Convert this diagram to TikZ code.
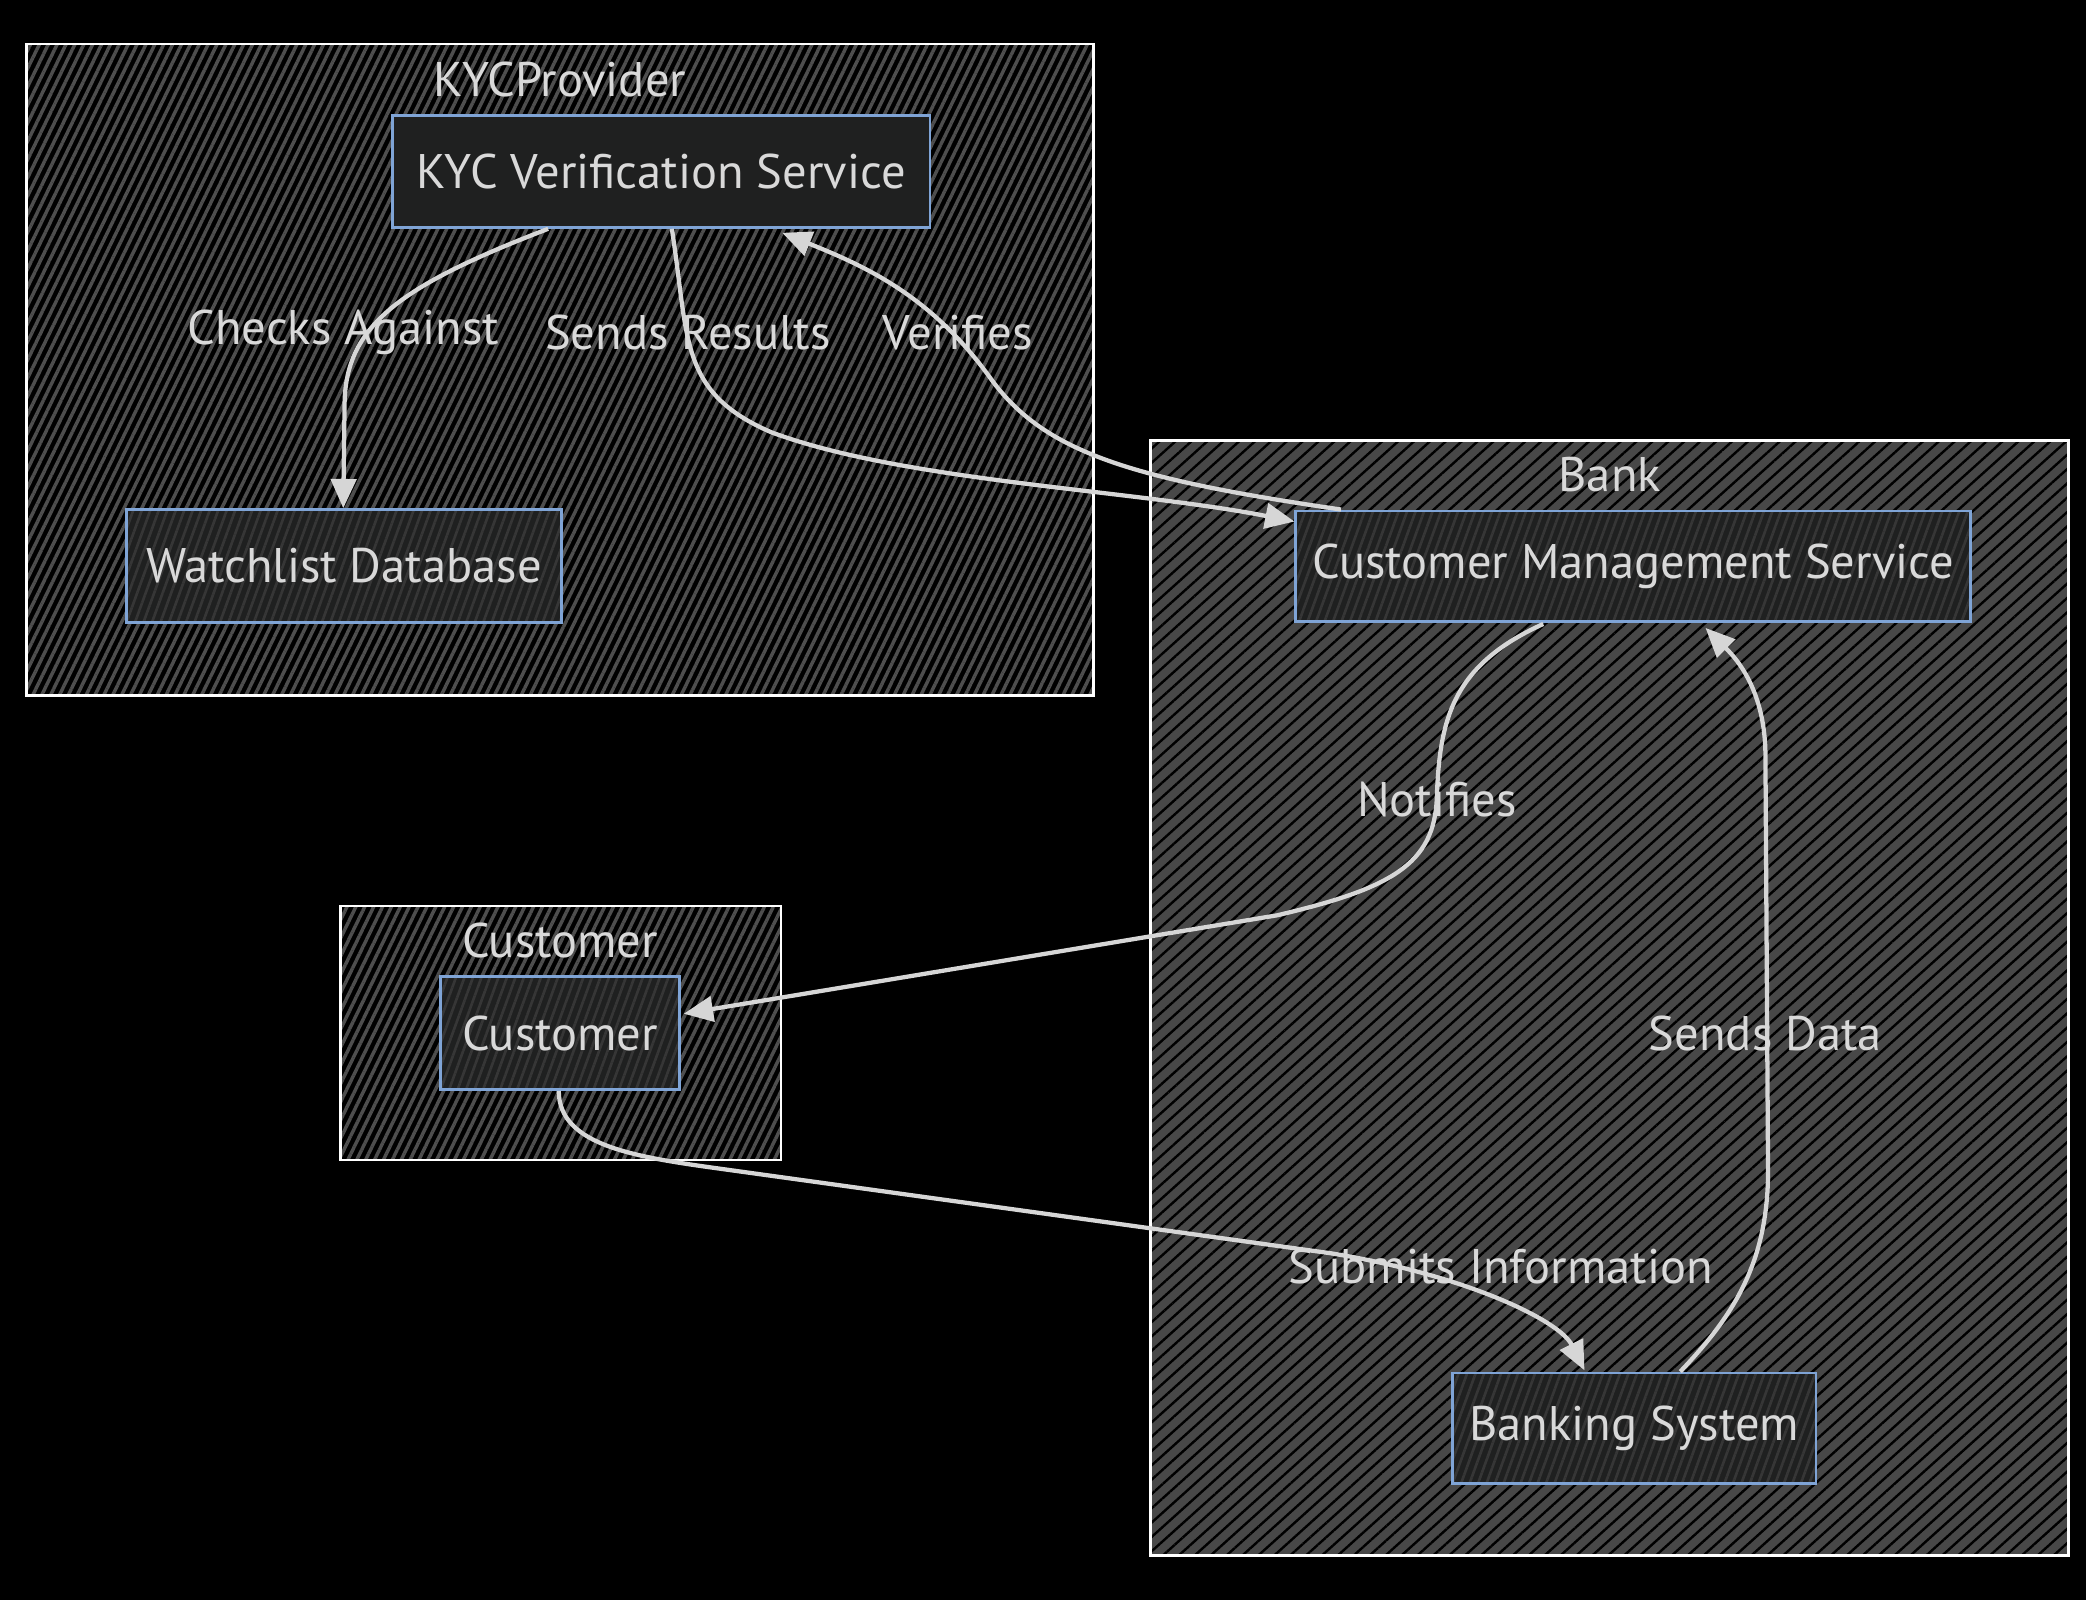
\documentclass[tikz,border=0pt]{standalone}
\usepackage{fontspec}
\setmainfont{PT Sans}
\usetikzlibrary{patterns.meta,arrows.meta}
\definecolor{txt}{HTML}{D9D9D9}
\definecolor{edgec}{HTML}{D6D6D6}
\definecolor{nodeborder}{HTML}{7FA4D6}
\definecolor{nodefill}{HTML}{1F2020}
\definecolor{nodehatch}{HTML}{363636}
\definecolor{kychatch}{HTML}{4E4E4E}
\definecolor{bankfill}{HTML}{484848}
\tikzset{
  lbl/.style={text=txt,font=\fontsize{36.5}{42}\selectfont,inner sep=0pt},
  nodebox/.style={rectangle,draw=nodeborder,line width=2pt,inner sep=0pt,
    text=txt,font=\fontsize{36.5}{42}\selectfont,
    preaction={fill=nodefill},
    preaction={pattern={Lines[angle=70,distance=6pt,line width=2pt]},pattern color=nodehatch}},
  plainbox/.style={rectangle,draw=nodeborder,line width=2pt,inner sep=0pt,
    text=txt,font=\fontsize{36.5}{42}\selectfont,fill=nodefill},
  darkcluster/.style={draw=white,line width=2pt,
    preaction={fill=black},
    preaction={pattern={Lines[angle=64,distance=6pt,line width=2.6pt]},pattern color=kychatch}},
  bankcluster/.style={draw=white,line width=2pt,
    preaction={fill=bankfill},
    preaction={pattern={Lines[angle=42,distance=8pt,line width=1.8pt]},pattern color=black}},
  link/.style={draw=edgec,line width=3.2pt,-{Triangle[length=22pt,width=19pt]}},
}
\begin{document}
\begin{tikzpicture}[x=1pt,y=-1pt]
\fill[black] (0,0) rectangle (1568,1202.7);
\useasboundingbox (0,0) rectangle (1568,1202.7);
% clusters
\draw[darkcluster] (20,33) rectangle (822,523);
\draw[bankcluster] (865,331) rectangle (1555,1169);
\draw[darkcluster] (256,681) rectangle (587,872);
\node[lbl] (tkyc) at (421,60) {KYCProvider};
\node[lbl] (tbank) at (1210,357) {Bank};
\node[lbl] (tcust) at (421,707) {Customer};
% nodes
\node[plainbox,minimum width=404pt,minimum height=84pt] (kyc) at (497,129) {KYC Verification Service};
\node[nodebox,minimum width=327pt,minimum height=85pt] (watch) at (258.5,425.5) {Watchlist Database};
\node[nodebox,minimum width=507pt,minimum height=83pt] (cms) at (1227.5,425.5) {Customer Management Service};
\node[nodebox,minimum width=180pt,minimum height=85pt] (cust) at (421,776.5) {Customer};
\node[nodebox,minimum width=273pt,minimum height=83pt] (bank) at (1228.5,1073.5) {Banking System};
% anchor coordinates
\coordinate (kycA) at (412,172);
\coordinate (kycB) at (505,172);
\coordinate (kycC) at (588,175);
\coordinate (watchT) at (258,382);
\coordinate (cmsL) at (973,392);
\coordinate (cmsT) at (1008,383);
\coordinate (cmsB1) at (1160,469);
\coordinate (cmsB2) at (1282,472);
\coordinate (custR) at (514,762);
\coordinate (custB) at (420,820);
\coordinate (bankT1) at (1191,1030);
\coordinate (bankT2) at (1263,1031);
% edges
\draw[link] (kycA) .. controls (300,215) and (259,245) .. (259,305) -- (watchT);
\draw[link] (kycB) .. controls (518,255) and (510,295) .. (580,325) .. controls (680,362) and (850,368) .. (cmsL);
\draw[link] (cmsT) .. controls (850,360) and (785,340) .. (745,285) .. controls (700,222) and (650,200) .. (kycC);
\draw[link] (cmsB1) .. controls (1092,500) and (1082,540) .. (1080,600) .. controls (1078,650) and (1045,668) .. (960,688) -- (custR);
\draw[link] (custB) .. controls (420,862) and (480,870) .. (545,879) -- (1000,942) .. controls (1100,958) and (1172,992) .. (bankT1);
\draw[link] (bankT2) .. controls (1302,990) and (1329,950) .. (1329,880) -- (1327,565) .. controls (1326,515) and (1302,492) .. (cmsB2);
% edge labels
\node[lbl] (l1) at (258,250) {Checks Against};
\node[lbl] (l2) at (517,250) {Sends Results};
\node[lbl] (l3) at (720,250) {Verifies};
\node[lbl] (l4) at (1080,601) {Notifies};
\node[lbl] (l5) at (1327,777) {Sends Data};
\node[lbl] (l6) at (1128,952) {Submits Information};
\end{tikzpicture}
\end{document}
